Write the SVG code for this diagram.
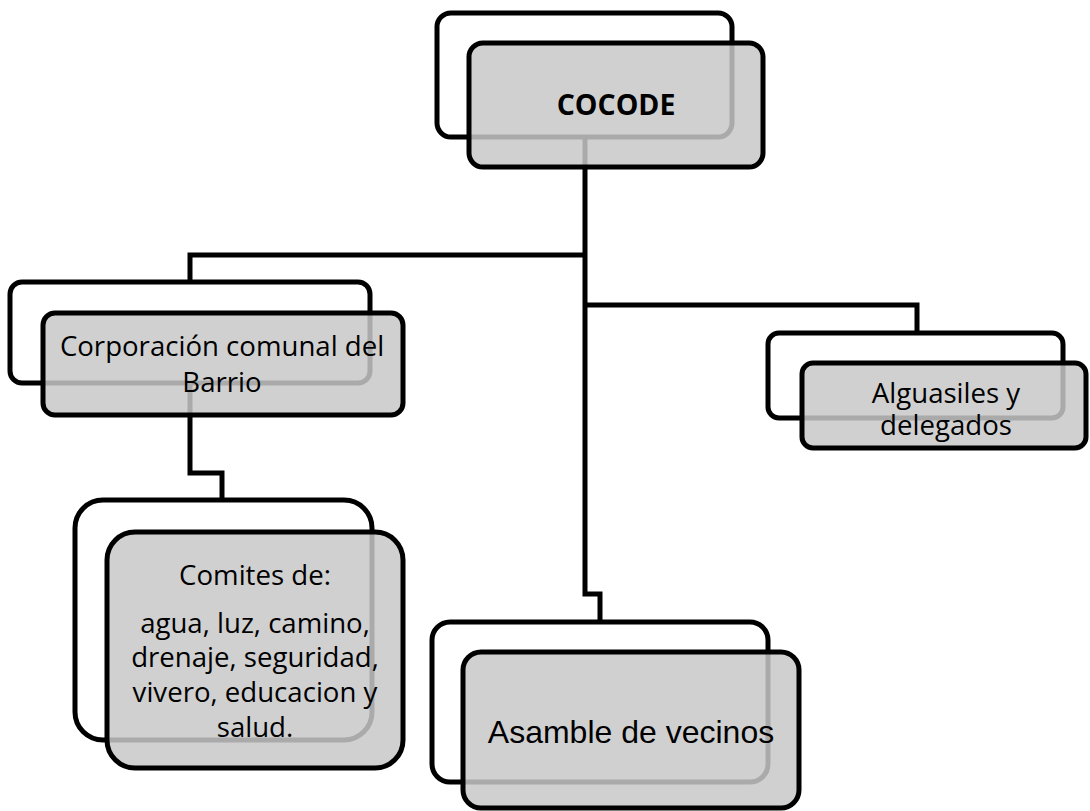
<svg xmlns="http://www.w3.org/2000/svg" width="1090" height="811" viewBox="0 0 1090 811">
<style>
.back{fill:#ffffff;stroke:#000;stroke-width:5}
.front{fill:#c8c8c8;fill-opacity:0.85;stroke:#000;stroke-width:5}
.conn{fill:none;stroke:#000;stroke-width:5;stroke-linejoin:miter}
.t{font-family:"Open Sans",Lato,"Liberation Sans",sans-serif;font-size:27.6px;fill:#000;text-anchor:middle}
.b{font-weight:bold;font-size:28.5px}
.a{font-family:"Liberation Sans",Arial,sans-serif;font-size:32px;fill:#000;text-anchor:middle}
</style>
<rect width="1090" height="811" fill="#fff"/>
<g id="connectors">
<path class="conn" d="M585,137 V594 H600 V622"/>
<path class="conn" d="M585,255 H190 V282"/>
<path class="conn" d="M585,305 H917 V333"/>
<path class="conn" d="M190,383 V473 H222 V500"/>
</g>
<g id="cocode">
<rect class="back" x="437" y="13" width="295" height="124" rx="14"/>
<rect class="front" x="469" y="43" width="294" height="124" rx="14"/>
<text class="t b" x="616" y="115">COCODE</text>
</g>
<g id="corporacion">
<rect class="back" x="10" y="282" width="360" height="101" rx="12"/>
<rect class="front" x="43" y="313" width="360" height="102" rx="12"/>
<text class="t" x="222" y="356">Corporación comunal del</text>
<text class="t" x="222" y="392">Barrio</text>
</g>
<g id="comites">
<rect class="back" x="75" y="500" width="297" height="240" rx="28"/>
<rect class="front" x="107" y="532" width="296" height="236" rx="28"/>
<text class="t" x="255" y="585">Comites de:</text>
<text class="t" x="255" y="633">agua, luz, camino,</text>
<text class="t" x="255" y="667">drenaje, seguridad,</text>
<text class="t" x="255" y="702">vivero, educacion y</text>
<text class="t" x="255" y="737">salud.</text>
</g>
<g id="alguasiles">
<rect class="back" x="768" y="333" width="295" height="85" rx="11"/>
<rect class="front" x="802" y="363" width="284" height="85" rx="11"/>
<text class="t" x="946" y="403">Alguasiles y</text>
<text class="t" x="946" y="435">delegados</text>
</g>
<g id="asamble">
<rect class="back" x="432" y="622" width="336" height="160" rx="18"/>
<rect class="front" x="463" y="652" width="336" height="156" rx="18"/>
<text class="a" x="631" y="743">Asamble de vecinos</text>
</g>
</svg>
